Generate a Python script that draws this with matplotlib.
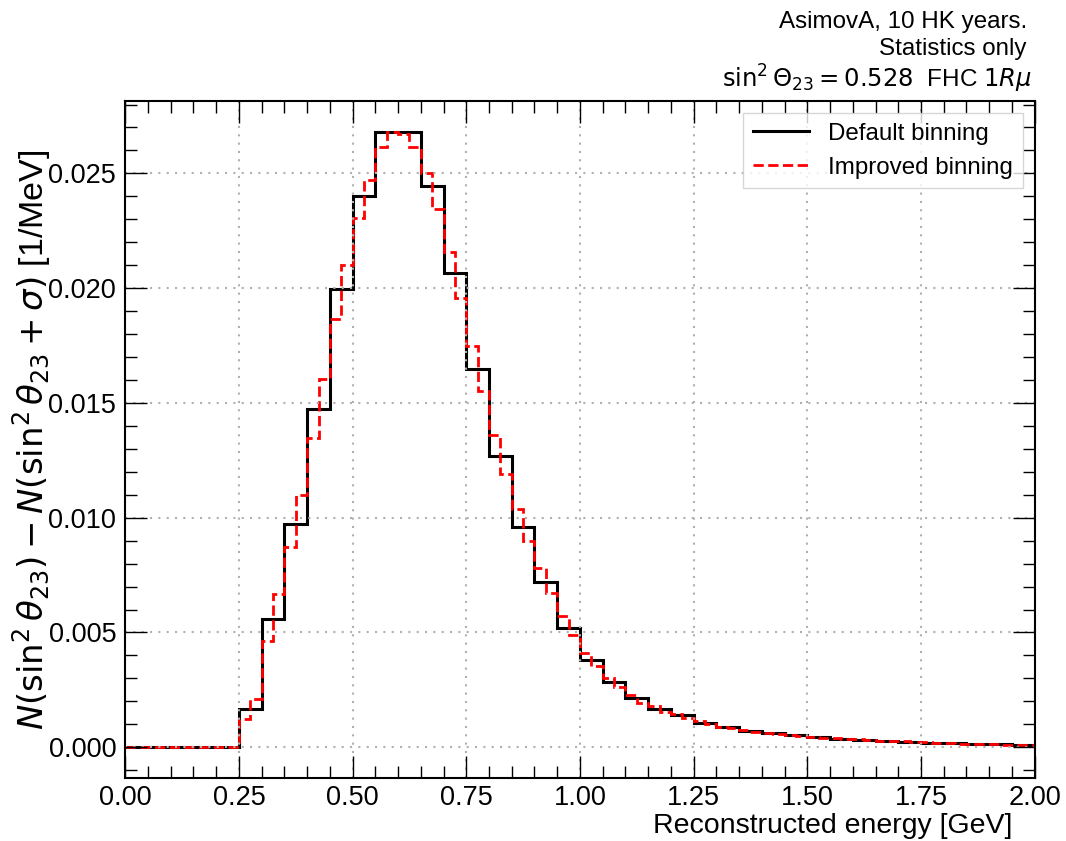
import matplotlib.pyplot as plt
import numpy as np

plt.rcParams["font.family"] = ["Liberation Sans", "DejaVu Sans"]
plt.rcParams["mathtext.fontset"] = "dejavusans"

# bin edges [GeV]
edges_default = np.linspace(0.0, 2.0, 41)   # 0.05 GeV bins
edges_improved = np.linspace(0.0, 2.0, 81)  # 0.025 GeV bins

# N(sin2) - N(sin2 + sigma) per bin [1/MeV]
diff_default = [
    0, 0, 0, 0, 0,
    0.00165, 0.00558, 0.00972, 0.01473, 0.01998,
    0.02401, 0.02682, 0.02680, 0.02443, 0.02064,
    0.01648, 0.01267, 0.00961, 0.00718, 0.00520,
    0.00380, 0.00285, 0.00216, 0.00168, 0.00139,
    0.00106, 0.00086, 0.00071, 0.00061, 0.00052,
    0.00044, 0.00037, 0.00033, 0.00028, 0.00024,
    0.00020, 0.00017, 0.00014, 0.00012, 0.00010,
]
diff_improved = [
    0, 0, 0, 0, 0, 0, 0, 0, 0, 0,
    0.00122, 0.00209, 0.00464, 0.00668, 0.00871,
    0.01097, 0.01347, 0.01604, 0.01867, 0.02103,
    0.02304, 0.02471, 0.02615, 0.02679, 0.02670,
    0.02616, 0.02500, 0.02347, 0.02158, 0.01955,
    0.01747, 0.01550, 0.01362, 0.01191, 0.01038,
    0.00899, 0.00780, 0.00671, 0.00571, 0.00489,
    0.00412, 0.00354, 0.00300, 0.00261, 0.00227,
    0.00193, 0.00178, 0.00155, 0.00144, 0.00127,
    0.00113, 0.00100, 0.00090, 0.00082, 0.00075,
    0.00068, 0.00063, 0.00058, 0.00054, 0.00049,
    0.00046, 0.00042, 0.00039, 0.00035, 0.00034,
    0.00031, 0.00029, 0.00026, 0.00025, 0.00023,
    0.00021, 0.00019, 0.00018, 0.00016, 0.00015,
    0.00013, 0.00012, 0.00011, 0.00010, 0.00009,
]

fs_tick = 19.5
fs_xlab = 20.5
fs_ylab = 24.5
fs_txt = 17.4

fig = plt.figure(figsize=(10.66, 8.41), dpi=100)
ax = fig.add_axes([0.1175, 0.0749, 0.8531, 0.8052])

ax.stairs(diff_default, edges_default, baseline=None, color="black",
          linewidth=2.2, label="Default binning")
ax.stairs(diff_improved, edges_improved, baseline=None, color="red",
          linewidth=2.0, linestyle="--", label="Improved binning")

ax.set_xlim(0, 2)
ax.margins(y=0.05)

ax.set_xticks(np.arange(0, 2.01, 0.25))
ax.set_xticks(np.arange(0, 2.01, 0.05), minor=True)
ax.set_yticks(np.arange(0, 0.0251, 0.005))
ax.set_yticks(np.arange(-0.001, 0.0281, 0.001), minor=True)
ax.xaxis.set_major_formatter(plt.FormatStrFormatter("%.2f"))
ax.yaxis.set_major_formatter(plt.FormatStrFormatter("%.3f"))

ax.tick_params(which="both", direction="in", top=True, right=True,
               labelsize=fs_tick, width=1.0)
ax.tick_params(which="major", length=16, pad=6.5)
ax.tick_params(axis="x", which="major", pad=5)
ax.tick_params(which="minor", length=8.5)
for sp in ax.spines.values():
    sp.set_linewidth(1.5)

ax.grid(True, which="major", color="#b0b0b0", linewidth=1.5,
        linestyle=(0, (1, 3)))

ax.set_xlabel("Reconstructed energy [GeV]", fontsize=fs_xlab, ha="right")
ax.xaxis.set_label_coords(0.975, -0.051)
ax.set_ylabel(r"$N(\sin^2\theta_{23}) - N(\sin^2\theta_{23}+\sigma)$ [1/MeV]",
              fontsize=fs_ylab)
ax.yaxis.set_label_coords(-0.08, 0.5)

leg = ax.legend(loc="upper right", fontsize=fs_txt, fancybox=False,
                handlelength=2.3)
leg.get_frame().set_edgecolor("#cccccc")

fig.text(0.9631, 0.9663, "AsimovA, 10 HK years.", fontsize=fs_txt,
         ha="right", va="baseline")
fig.text(0.9625, 0.9346, "Statistics only", fontsize=fs_txt,
         ha="right", va="baseline")
fig.text(0.968, 0.8954, r"$\sin^2\Theta_{23} = 0.528$  FHC $1R\mu$",
         fontsize=17.5, ha="right", va="baseline")

fig.savefig("out.png", dpi=100)
